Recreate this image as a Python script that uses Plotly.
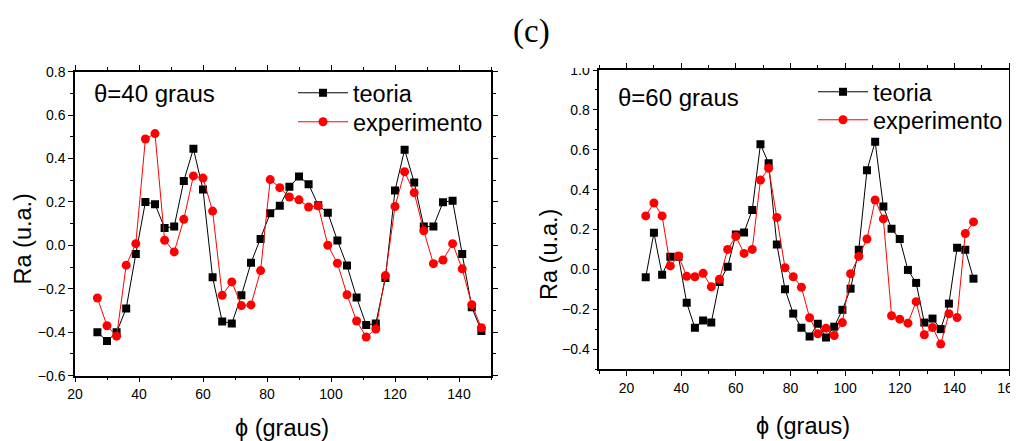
import plotly.graph_objects as go

phi = list(range(27, 148, 3))

teoria40 = [-0.40, -0.44, -0.40, -0.29, -0.04, 0.20, 0.19, 0.08, 0.087, 0.297,
            0.445, 0.257, -0.147, -0.35, -0.36, -0.23, -0.08, 0.03, 0.148, 0.183,
            0.27, 0.317, 0.282, 0.185, 0.15, 0.023, -0.093, -0.24, -0.366, -0.36,
            -0.15, 0.253, 0.441, 0.29, 0.087, 0.087, 0.199, 0.206, -0.04, -0.285, -0.394]
exper40 = [-0.242, -0.37, -0.418, -0.091, 0.008, 0.49, 0.515, 0.024, -0.03, 0.12,
           0.32, 0.31, 0.158, -0.23, -0.168, -0.277, -0.274, -0.116, 0.303, 0.266,
           0.223, 0.21, 0.177, 0.182, 0.001, -0.082, -0.227, -0.348, -0.422, -0.385,
           -0.139, 0.179, 0.339, 0.243, 0.067, -0.084, -0.067, 0.008, -0.108, -0.273, -0.379]

teoria60 = [-0.04, 0.183, -0.027, 0.063, 0.063, -0.168, -0.293, -0.257, -0.267, -0.063,
            0.013, 0.175, 0.185, 0.298, 0.627, 0.532, 0.125, -0.10, -0.222, -0.293,
            -0.337, -0.273, -0.342, -0.288, -0.203, -0.097, 0.098, 0.497, 0.64, 0.315,
            0.203, 0.152, -0.003, -0.068, -0.267, -0.247, -0.30, -0.172, 0.108, 0.098, -0.047]
exper60 = [0.268, 0.333, 0.268, 0.017, 0.067, -0.035, -0.037, -0.02, -0.088, -0.05,
           0.10, 0.165, 0.08, 0.10, 0.448, 0.507, 0.26, 0.008, -0.037, -0.09,
           -0.243, -0.323, -0.295, -0.332, -0.267, -0.022, 0.065, 0.152, 0.348, 0.253,
           -0.233, -0.25, -0.27, -0.162, -0.328, -0.292, -0.375, -0.223, -0.242, 0.18, 0.238]

names = ["teoria", "experimento"]
panel_titles = ["θ=40 graus", "θ=60 graus"]
x_label = "ϕ (graus)"
y_label = "Ra (u.a.)"
main_title = "(c)"

OFF = 8  # page body margin
W, H = 1018 - OFF, 441 - OFF
FONT = "Liberation Sans, Arial, sans-serif"

def px_x(p):
    return (p - OFF) / W

def px_y(p):
    return 1 - (p - OFF) / H

fig = go.Figure()

def add_pair(t, e, xa, ya, leg_t, leg_e):
    fig.add_trace(go.Scatter(x=phi, y=t, mode="lines+markers", name=names[0],
                             line=dict(color="black", width=1),
                             marker=dict(symbol="square", size=8, color="black"),
                             xaxis=xa, yaxis=ya, legend=leg_t, showlegend=True))
    fig.add_trace(go.Scatter(x=phi, y=e, mode="lines+markers", name=names[1],
                             line=dict(color="red", width=1),
                             marker=dict(symbol="circle", size=9, color="red"),
                             xaxis=xa, yaxis=ya, legend=leg_e, showlegend=True))

add_pair(teoria40, exper40, "x", "y", "legend2", "legend3")
add_pair(teoria60, exper60, "x2", "y2", "legend4", "legend5")

axis_common = dict(showline=True, linecolor="black", linewidth=1.5, mirror="ticks",
                   ticks="outside", ticklen=5, tickwidth=1, tickcolor="black",
                   showgrid=False, zeroline=False, automargin=False,
                   ticklabeloverflow="allow",
                   tickfont=dict(family=FONT, size=14, color="black"))

def leg(xp, yp):
    return dict(x=px_x(xp), y=px_y(yp), xanchor="left", yanchor="middle",
                bgcolor="rgba(0,0,0,0)", itemwidth=50, visible=True,
                font=dict(family=FONT, size=23.5, color="black"))

fig.update_layout(
    width=W, height=H, margin=dict(l=0, r=0, t=0, b=0, autoexpand=False),
    paper_bgcolor="white", plot_bgcolor="white", showlegend=True,
    font=dict(family=FONT, color="black"),
    xaxis=dict(domain=[px_x(75), px_x(491)], range=[20, 150], dtick=20,
               minor=dict(dtick=10, ticks="outside", ticklen=3, tickcolor="black"),
               anchor="y", **axis_common),
    yaxis=dict(domain=[px_y(375.7), px_y(71.7)], range=[-0.6, 0.8], dtick=0.2,
               tickformat=".1f",
               minor=dict(dtick=0.1, ticks="outside", ticklen=3, tickcolor="black"),
               anchor="x", **axis_common),
    xaxis2=dict(domain=[px_x(599.3), px_x(1009)], range=[10, 160], dtick=20, tick0=0,
                minor=dict(dtick=10, ticks="outside", ticklen=3, tickcolor="black"),
                anchor="y2", **axis_common),
    yaxis2=dict(domain=[px_y(369), px_y(70)], range=[-0.5, 1.0], dtick=0.2, tick0=0,
                tickformat=".1f",
                minor=dict(dtick=0.1, ticks="outside", ticklen=3, tickcolor="black"),
                anchor="x2", **axis_common),
    legend2=leg(293, 93),
    legend3=leg(293, 122),
    legend4=leg(813, 92),
    legend5=leg(813, 120),
    shapes=[dict(type="rect", xref="paper", yref="paper",
                 x0=px_x(560), x1=px_x(596), y0=px_y(68), y1=px_y(40),
                 fillcolor="white", line=dict(width=0), layer="above")],
)

ann = [
    dict(text=main_title, x=px_x(531), y=px_y(31),
         font=dict(family="Liberation Serif, Times New Roman, serif", size=33)),
    dict(text=panel_titles[0], x=px_x(92), y=px_y(94), xanchor="left",
         font=dict(family=FONT, size=24)),
    dict(text=panel_titles[1], x=px_x(616), y=px_y(98), xanchor="left",
         font=dict(family=FONT, size=24)),
    dict(text=x_label, x=px_x(282), y=px_y(428), font=dict(family=FONT, size=23.5)),
    dict(text=x_label, x=px_x(803), y=px_y(426), font=dict(family=FONT, size=23.5)),
    dict(text=y_label, x=px_x(22.5), y=px_y(239), textangle=-90,
         font=dict(family=FONT, size=23.5)),
    dict(text=y_label, x=px_x(549), y=px_y(255), textangle=-90,
         font=dict(family=FONT, size=23.5)),
]
for a in ann:
    a.update(xref="paper", yref="paper", showarrow=False)
    a.setdefault("xanchor", "center")
    a.setdefault("yanchor", "middle")
fig.update_layout(annotations=ann)

fig.write_html("out.html")
